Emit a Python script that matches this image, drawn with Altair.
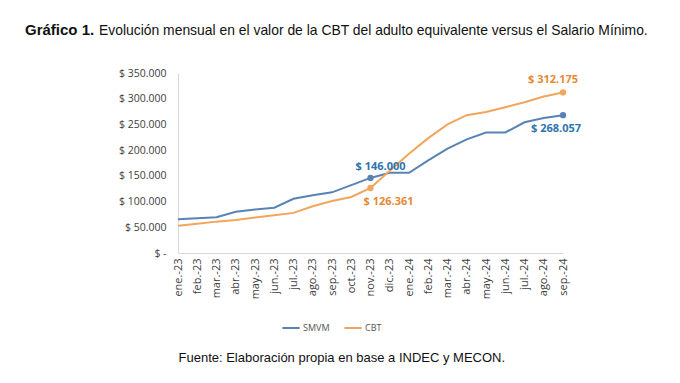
import altair as alt
import pandas as pd

months = ["ene.-23", "feb.-23", "mar.-23", "abr.-23", "may.-23", "jun.-23", "jul.-23",
          "ago.-23", "sep.-23", "oct.-23", "nov.-23", "dic.-23", "ene.-24", "feb.-24",
          "mar.-24", "abr.-24", "may.-24", "jun.-24", "jul.-24", "ago.-24", "sep.-24"]

smvm = [65427, 67743, 69500, 80342, 84512, 87987, 105500, 112500, 118000, 132000, 146000,
        156000, 156000, 180000, 202800, 221052, 234315, 234315, 254232, 262432, 268057]

cbt = [53000, 57000, 61000, 64000, 69000, 73500, 78000, 91000, 101000, 109000, 126361,
       160000, 193166, 223315, 250000, 268012, 274121, 283495, 293273, 304170, 312175]

series_names = ["SMVM", "CBT"]
series_colors = ["#5983B4", "#F2A55C"]
label_colors = ["#2E74B0", "#E58A36"]

labeled_months = ["nov.-23", "sep.-24"]

title_bold = "Gráfico 1."
title_rest = "Evolución mensual en el valor de la CBT del adulto equivalente versus el Salario Mínimo."
source_text = "Fuente: Elaboración propia en base a INDEC y MECON."


def fmt(v):
    return "$ " + f"{v:,}".replace(",", ".")


rows = []
for i, m in enumerate(months):
    rows.append({"mes": m, "serie": "SMVM", "valor": smvm[i], "orden": i})
    rows.append({"mes": m, "serie": "CBT", "valor": cbt[i], "orden": i})
df = pd.DataFrame(rows)
df["etiqueta"] = df["valor"].apply(fmt)

x_enc = alt.X("mes:N", sort=months, scale=alt.Scale(type="point", padding=0),
              axis=alt.Axis(labelAngle=-90, labelFontSize=11, labelColor="#404040",
                            labelFont="Open Sans", ticks=False, domainColor="#d9d9d9",
                            labelPadding=5, labelBaseline="middle",
                            title=source_text,
                            titleFont="Liberation Sans", titleFontSize=13,
                            titleFontWeight="normal", titleColor="#111111",
                            titleAnchor="start", titleAlign="left", titleX=0, titleY=104,
                            titleBaseline="middle"))

y_enc = alt.Y("valor:Q", scale=alt.Scale(domain=[0, 350000], nice=False),
              axis=alt.Axis(values=[0, 50000, 100000, 150000, 200000, 250000, 300000, 350000],
                            labelExpr="datum.value == 0 ? '$ -' : '$ ' + replace(format(datum.value, ','), ',', '.')",
                            labelFontSize=10.5, labelColor="#404040", labelFont="Open Sans",
                            ticks=False, grid=False, domainColor="#d9d9d9", labelPadding=12,
                            title=None))

color_enc = alt.Color("serie:N", scale=alt.Scale(domain=series_names, range=series_colors),
                      legend=alt.Legend(orient="none", legendX=103, legendY=245,
                                        direction="horizontal", title=None,
                                        symbolType="stroke", symbolStrokeWidth=2,
                                        symbolSize=300, labelFontSize=9, labelColor="#555555",
                                        labelFont="Open Sans", columnPadding=10,
                                        symbolOffset=0, labelOffset=2))

base = alt.Chart(df)

lines = base.mark_line(strokeWidth=2).encode(x=x_enc, y=y_enc, color=color_enc,
                                             order="orden:Q")

marked = base.transform_filter(alt.FieldOneOfPredicate(field="mes", oneOf=labeled_months))

points = marked.mark_circle(size=40, opacity=1).encode(
    x=x_enc, y=y_enc,
    color=alt.Color("serie:N", scale=alt.Scale(domain=series_names, range=series_colors),
                    legend=None))

lab_scale = alt.Scale(domain=series_names, range=label_colors)


def text_layer(month, serie, dx, dy):
    return base.transform_filter(
        (alt.datum.mes == month) & (alt.datum.serie == serie)
    ).mark_text(font="Open Sans", fontSize=11, fontWeight="bold", dx=dx, dy=dy).encode(
        x=x_enc, y=y_enc, text="etiqueta:N",
        color=alt.Color("serie:N", scale=lab_scale, legend=None))


texts = [
    text_layer("nov.-23", "SMVM", 10, -11),
    text_layer("nov.-23", "CBT", 18, 14),
    text_layer("sep.-24", "CBT", -10, -12),
    text_layer("sep.-24", "SMVM", -7, 14),
]

title_df = pd.DataFrame({"t1": [title_bold], "t2": [title_rest]})
title_base = alt.Chart(title_df)
t_bold = title_base.mark_text(font="Liberation Sans", fontSize=15, fontWeight="bold",
                              align="left", baseline="alphabetic", color="#111111").encode(
    x=alt.value(-153), y=alt.value(-38), text="t1:N")
t_rest = title_base.mark_text(font="Liberation Sans", fontSize=13.9, fontWeight="normal",
                              align="left", baseline="alphabetic", color="#111111").encode(
    x=alt.value(-79), y=alt.value(-38), text="t2:N")

chart = alt.layer(lines, points, *texts, t_bold, t_rest).resolve_scale(
    color="independent").properties(
    width=385, height=180,
    autosize=alt.AutoSizeParams(type="none"),
    padding={"left": 170, "top": 65, "right": 109, "bottom": 122},
).configure_view(stroke=None)

chart.save("out.html", embed_options={"renderer": "svg", "actions": False})
